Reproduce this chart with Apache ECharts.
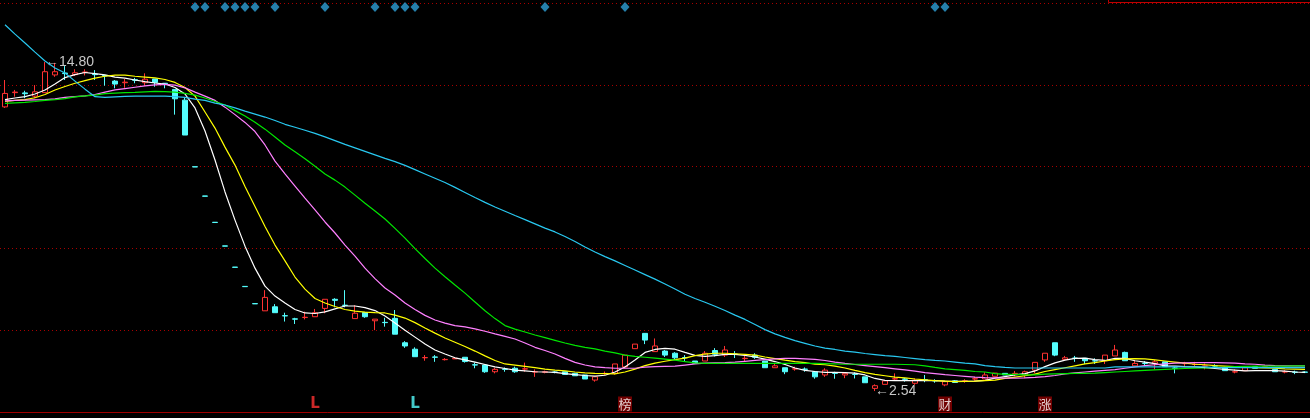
<!DOCTYPE html>
<html><head><meta charset="utf-8">
<script src="https://cdn.jsdelivr.net/npm/echarts/dist/echarts.min.js"></script>
<style>html,body{margin:0;padding:0;background:#000;}#c{width:1310px;height:418px;}</style>
</head><body><div id="c"></div>
<script>
// [open, close, low, high]
const ohlc = [
[13.13,13.63,13.09,14.13],[13.66,13.68,13.51,13.76],[13.65,13.62,13.45,13.73],[13.53,13.69,13.45,13.94],[13.66,14.44,13.65,14.80],
[14.32,14.44,14.25,14.77],[14.39,14.37,14.13,14.65],[14.33,14.40,14.28,14.53],[14.41,14.43,14.30,14.53],[14.35,14.33,14.13,14.50],
[14.30,14.28,13.92,14.32],[14.09,13.98,13.82,14.13],[14.03,14.05,13.84,14.17],[14.14,14.12,14.01,14.21],[14.03,14.16,13.91,14.38],
[14.17,14.04,13.88,14.17],[14.01,13.99,13.82,14.01],[13.78,13.43,12.84,13.78],[13.38,12.08,12.08,13.48],[10.90,10.89,10.89,10.90],
[9.81,9.80,9.80,9.81],[8.83,8.82,8.82,8.83],[7.95,7.94,7.94,7.95],[7.16,7.15,7.15,7.16],[6.44,6.43,6.43,6.44],
[5.80,5.79,5.79,5.80],[5.53,6.03,5.53,6.30],[5.68,5.46,5.46,5.78],[5.35,5.34,5.13,5.46],[5.23,5.22,5.04,5.27],
[5.28,5.29,5.21,5.50],[5.31,5.46,5.31,5.60],[5.62,5.96,5.44,5.96],[5.96,5.92,5.66,6.00],[5.74,5.73,5.66,6.30],
[5.24,5.44,5.24,5.74],[5.47,5.31,5.27,5.47],[5.16,5.22,4.81,5.22],[5.10,5.09,4.94,5.27],[5.25,4.66,4.66,5.56],
[4.34,4.22,4.15,4.40],[4.10,3.82,3.82,4.17],[3.78,3.79,3.67,3.88],[3.81,3.80,3.63,3.88],[3.71,3.72,3.68,3.77],
[3.74,3.76,3.74,3.78],[3.80,3.64,3.60,3.80],[3.52,3.51,3.39,3.60],[3.51,3.26,3.22,3.51],[3.26,3.35,3.20,3.41],
[3.36,3.35,3.26,3.42],[3.39,3.26,3.22,3.45],[3.36,3.37,3.26,3.60],[3.25,3.26,3.07,3.35],[3.24,3.26,3.20,3.30],
[3.25,3.24,3.20,3.28],[3.26,3.16,3.14,3.26],[3.20,3.11,3.11,3.22],[3.14,2.99,2.99,3.14],[2.95,3.07,2.89,3.07],
[3.19,3.20,3.14,3.27],[3.20,3.55,3.15,3.55],[3.44,3.88,3.38,3.88],[4.12,4.29,4.12,4.29],[4.69,4.44,4.29,4.69],
[4.01,4.22,4.01,4.50],[4.03,3.88,3.81,4.07],[3.95,3.78,3.70,3.99],[3.79,3.78,3.66,3.88],[3.66,3.58,3.58,3.66],
[3.66,3.95,3.66,4.03],[4.05,3.91,3.83,4.14],[3.88,4.07,3.81,4.22],[3.92,3.91,3.77,4.03],[3.75,3.76,3.66,3.85],
[3.88,3.80,3.74,3.95],[3.66,3.41,3.41,3.66],[3.41,3.48,3.41,3.55],[3.41,3.26,3.17,3.41],[3.36,3.37,3.30,3.45],
[3.36,3.35,3.26,3.42],[3.26,3.07,3.00,3.26],[3.14,3.32,3.07,3.39],[3.21,3.20,3.00,3.26],[3.14,3.20,3.02,3.20],
[3.17,3.16,3.01,3.24],[3.07,2.85,2.85,3.07],[2.64,2.74,2.54,2.79],[2.79,2.92,2.79,2.92],[2.99,3.00,2.92,3.20],
[2.99,2.98,2.89,3.03],[2.83,2.95,2.77,3.01],[2.96,2.95,2.87,3.14],[2.93,2.92,2.85,2.98],[2.77,2.89,2.72,2.89],
[2.92,2.86,2.85,2.95],[2.91,2.92,2.85,2.98],[2.99,3.00,2.92,3.07],[2.99,3.14,2.99,3.24],[3.09,3.21,3.09,3.21],
[3.20,3.14,3.14,3.20],[3.19,3.20,3.09,3.29],[3.14,3.26,3.02,3.30],[3.32,3.61,3.20,3.61],[3.70,3.95,3.63,3.95],
[4.34,3.88,3.84,4.34],[3.72,3.78,3.72,3.85],[3.77,3.76,3.63,3.85],[3.76,3.67,3.55,3.76],[3.67,3.66,3.55,3.76],
[3.67,3.88,3.55,3.88],[3.85,4.07,3.85,4.26],[3.98,3.67,3.67,4.01],[3.48,3.57,3.48,3.66],[3.58,3.57,3.48,3.66],
[3.57,3.63,3.35,3.70],[3.63,3.45,3.45,3.63],[3.40,3.39,3.20,3.45],[3.56,3.57,3.45,3.63],[3.53,3.54,3.46,3.63],
[3.47,3.48,3.35,3.57],[3.48,3.47,3.41,3.54],[3.41,3.30,3.30,3.41],[3.25,3.26,3.20,3.35],[3.30,3.41,3.30,3.41],
[3.45,3.39,3.39,3.45],[3.44,3.45,3.41,3.50],[3.35,3.26,3.26,3.35],[3.25,3.26,3.20,3.32],[3.25,3.24,3.17,3.30],
[3.25,3.24,3.21,3.27]
];

const ma5 = [13.40,13.46,13.51,13.61,13.76,13.98,14.22,14.33,14.41,14.37,
14.32,14.24,14.20,14.13,14.07,14.02,13.98,13.85,13.61,13.09,
12.23,11.15,9.96,8.91,7.94,7.12,6.45,6.08,5.82,5.58,
5.45,5.43,5.49,5.60,5.71,5.71,5.65,5.54,5.34,5.08,
4.81,4.55,4.29,4.07,3.92,3.78,3.70,3.62,3.53,3.44,
3.38,3.32,3.29,3.26,3.25,3.24,3.19,3.15,3.12,3.10,
3.13,3.25,3.44,3.70,3.98,4.09,4.13,4.10,3.98,3.87,
3.83,3.86,3.91,3.91,3.87,3.81,3.73,3.64,3.53,3.40,
3.31,3.27,3.24,3.24,3.23,3.21,3.14,3.01,2.94,2.93,
2.93,2.93,2.93,2.93,2.91,2.90,2.90,2.91,2.94,3.02,
3.08,3.14,3.19,3.29,3.45,3.59,3.69,3.76,3.77,3.71,
3.68,3.76,3.76,3.67,3.62,3.56,3.48,3.47,3.45,3.44,
3.41,3.38,3.35,3.32,3.29,3.30,3.30,3.30,3.28,3.25,
3.24];

const ma10 = [13.33,13.37,13.40,13.47,13.59,13.76,13.89,14.01,14.11,14.20,
14.27,14.31,14.31,14.27,14.24,14.21,14.15,14.04,13.85,13.53,
12.94,12.34,11.63,10.96,10.16,9.42,8.67,7.98,7.39,6.79,
6.34,5.99,5.82,5.69,5.58,5.52,5.48,5.46,5.45,5.37,
5.26,5.09,4.89,4.70,4.52,4.36,4.20,4.03,3.85,3.68,
3.55,3.51,3.46,3.41,3.36,3.32,3.29,3.25,3.22,3.20,
3.19,3.18,3.25,3.36,3.49,3.58,3.65,3.71,3.77,3.86,
3.92,3.95,3.95,3.93,3.91,3.88,3.81,3.75,3.69,3.64,
3.60,3.54,3.52,3.47,3.40,3.31,3.23,3.16,3.11,3.06,
3.03,2.99,2.96,2.93,2.91,2.89,2.90,2.91,2.93,2.95,
3.01,3.06,3.11,3.17,3.27,3.34,3.41,3.48,3.55,3.60,
3.66,3.71,3.74,3.75,3.74,3.70,3.66,3.62,3.58,3.54,
3.52,3.49,3.47,3.45,3.43,3.41,3.40,3.39,3.37,3.36,
3.35];

const ma20 = [13.35,13.37,13.38,13.39,13.40,13.43,13.48,13.51,13.54,13.59,
13.68,13.76,13.81,13.86,13.91,13.95,13.97,13.94,13.84,13.68,
13.53,13.37,13.12,12.84,12.55,12.21,11.71,11.11,10.63,10.18,
9.73,9.29,8.84,8.43,7.98,7.57,7.12,6.73,6.38,6.12,
5.82,5.58,5.36,5.19,5.07,4.98,4.93,4.86,4.77,4.67,
4.58,4.48,4.33,4.17,4.05,3.92,3.76,3.61,3.51,3.44,
3.41,3.39,3.39,3.39,3.43,3.45,3.46,3.47,3.51,3.55,
3.58,3.59,3.60,3.62,3.65,3.68,3.71,3.74,3.76,3.76,
3.74,3.72,3.68,3.62,3.57,3.53,3.49,3.45,3.41,3.37,
3.33,3.28,3.23,3.19,3.15,3.12,3.09,3.06,3.04,3.03,
3.02,3.02,3.03,3.05,3.08,3.12,3.18,3.22,3.25,3.28,
3.31,3.34,3.39,3.44,3.49,3.52,3.55,3.58,3.59,3.60,
3.60,3.60,3.59,3.58,3.55,3.54,3.51,3.49,3.48,3.48,
3.48];

const ma30 = [13.26,13.28,13.30,13.33,13.37,13.40,13.44,13.50,13.54,13.57,
13.62,13.64,13.66,13.67,13.69,13.71,13.70,13.68,13.63,13.57,
13.46,13.33,13.20,12.99,12.79,12.56,12.30,12.01,11.71,11.46,
11.20,10.92,10.63,10.40,10.14,9.84,9.54,9.25,8.95,8.60,
8.24,7.85,7.48,7.12,6.80,6.49,6.19,5.86,5.53,5.24,
4.98,4.85,4.74,4.63,4.53,4.43,4.33,4.24,4.17,4.11,
4.03,3.96,3.88,3.83,3.80,3.77,3.73,3.69,3.64,3.59,
3.57,3.57,3.57,3.57,3.57,3.57,3.57,3.57,3.57,3.57,
3.57,3.57,3.56,3.55,3.54,3.54,3.54,3.54,3.54,3.54,
3.53,3.52,3.48,3.42,3.37,3.34,3.31,3.27,3.25,3.19,
3.16,3.16,3.14,3.14,3.17,3.18,3.19,3.20,3.20,3.21,
3.23,3.25,3.27,3.29,3.31,3.33,3.35,3.37,3.38,3.39,
3.40,3.42,3.43,3.45,3.46,3.47,3.47,3.47,3.47,3.48,
3.48];

const ma60 = [16.19,15.84,15.51,15.17,14.84,14.58,14.39,14.09,13.79,13.51,
13.48,13.50,13.52,13.53,13.53,13.53,13.53,13.51,13.48,13.42,
13.37,13.27,13.20,13.09,12.97,12.86,12.75,12.62,12.48,12.37,
12.26,12.14,12.01,11.87,11.73,11.60,11.47,11.34,11.21,11.09,
10.95,10.79,10.63,10.47,10.31,10.13,9.94,9.75,9.57,9.40,
9.24,9.08,8.93,8.77,8.61,8.47,8.30,8.11,7.91,7.72,
7.55,7.39,7.22,7.05,6.88,6.71,6.53,6.34,6.15,5.99,
5.85,5.70,5.54,5.37,5.21,5.02,4.83,4.67,4.54,4.42,
4.32,4.22,4.14,4.09,4.03,3.99,3.94,3.90,3.86,3.83,
3.79,3.75,3.71,3.68,3.66,3.62,3.58,3.55,3.49,3.45,
3.42,3.40,3.40,3.40,3.40,3.40,3.40,3.40,3.40,3.40,
3.40,3.44,3.44,3.44,3.44,3.44,3.44,3.44,3.44,3.44,
3.44,3.41,3.41,3.41,3.41,3.41,3.41,3.41,3.41,3.41,
3.41];

// day indexes with a signal diamond at the top
const signalDays = [19,20,22,23,24,25,27,32,37,39,40,41,54,62,93,94];
// day indexes with a tag at the bottom
const tagDays = [31,41,62,94,104];
const tagTexts = ['L','L','榜','财','涨'];
const tagKinds = ['up','down','box','box','box'];

const days = ohlc.map((_, i) => 'D' + (i + 1));

const RED = '#ff3232', CYAN = '#54fcfc';
let maxI = 0, minI = 0;
ohlc.forEach((d, i) => {
  if (d[3] > ohlc[maxI][3]) maxI = i;
  if (d[2] < ohlc[minI][2]) minI = i;
});

const chart = echarts.init(document.getElementById('c'), null, {renderer: 'canvas'});

function maLine(data, color) {
  return {type: 'line', data: data, xAxisIndex: 0, yAxisIndex: 0, symbol: 'none', showSymbol: false,
    lineStyle: {width: 1.2, color: color}, itemStyle: {color: color}, z: 5, silent: true, smooth: false};
}

const tagStyle = {
  up:   {symbol: 'rect', symbolSize: 1, item: 'rgba(0,0,0,0)', text: RED, font: 'DejaVu Sans', size: 15, weight: 'bold'},
  down: {symbol: 'rect', symbolSize: 1, item: 'rgba(0,0,0,0)', text: CYAN, font: 'DejaVu Sans', size: 15, weight: 'bold'},
  box:  {symbol: 'rect', symbolSize: [14, 15], item: '#8c0000', text: '#ffffff', font: 'Noto Sans CJK SC', size: 13, weight: 'normal'}
};

chart.setOption({
  backgroundColor: '#000000',
  animation: false,
  grid: [
    {left: 0, right: 0, top: 3, bottom: 6},
    {left: 0, right: 0, top: 2, height: 10},
    {left: 0, right: 0, top: 396, height: 16}
  ],
  xAxis: [
    {type: 'category', data: days, gridIndex: 0, boundaryGap: true,
      axisLine: {show: true, onZero: false, lineStyle: {color: '#a00000', width: 1}},
      axisTick: {show: false}, axisLabel: {show: false}, splitLine: {show: false}},
    {type: 'category', data: days, gridIndex: 1, show: false},
    {type: 'category', data: days, gridIndex: 2, show: false}
  ],
  yAxis: [
    {type: 'value', gridIndex: 0, min: 1.76, max: 17.0, show: false, scale: true},
    {type: 'value', gridIndex: 0, min: 0, max: 5, interval: 1,
      axisLine: {show: false}, axisTick: {show: false}, axisLabel: {show: false},
      splitLine: {show: true, lineStyle: {color: '#a80000', width: 1, type: [1, 3]}}},
    {type: 'value', gridIndex: 1, min: 0, max: 1, show: false},
    {type: 'value', gridIndex: 2, min: 0, max: 1, show: false}
  ],
  graphic: [
    {type: 'polyline', shape: {points: [[1108.5, 0], [1108.5, 2.5], [1310, 2.5]]},
      style: {stroke: '#c00000', lineWidth: 1, fill: null}, silent: true}
  ],
  series: [
    {type: 'candlestick', data: ohlc, xAxisIndex: 0, yAxisIndex: 0, barWidth: 6, z: 3, silent: true,
      itemStyle: {color: '#000000', color0: CYAN, borderColor: RED, borderColor0: CYAN, borderWidth: 1},
      markPoint: {
        symbol: 'rect', symbolSize: 0, silent: true,
        itemStyle: {color: 'rgba(0,0,0,0)'},
        label: {show: true, position: 'right', distance: 0, color: '#c8c8c8', fontSize: 14,
          fontFamily: 'Liberation Sans', formatter: p => '\u2190' + Number(p.value).toFixed(2)},
        data: [
          {coord: [days[maxI], ohlc[maxI][3]], value: ohlc[maxI][3]},
          {coord: [days[minI], ohlc[minI][2]], value: ohlc[minI][2]}
        ]
      }
    },
    maLine(ma5, '#ffffff'),
    maLine(ma10, '#ffff00'),
    maLine(ma20, '#ff80ff'),
    maLine(ma30, '#00e600'),
    maLine(ma60, '#28c8f0'),
    {type: 'scatter', xAxisIndex: 1, yAxisIndex: 2, silent: true,
      data: signalDays.map(d => [d, 0.5]), symbol: 'diamond', symbolSize: [9, 10],
      itemStyle: {color: '#2e9fd6'}},
    {type: 'scatter', xAxisIndex: 2, yAxisIndex: 3, silent: true,
      data: tagDays.map((d, k) => {
        const s = tagStyle[tagKinds[k]];
        return {value: [d, 0.5], symbol: s.symbol, symbolSize: s.symbolSize,
          itemStyle: {color: s.item},
          label: {show: true, position: 'inside', formatter: tagTexts[k], color: s.text,
            fontSize: s.size, fontWeight: s.weight, fontFamily: s.font}};
      })}
  ]
});
</script>
</body></html>
